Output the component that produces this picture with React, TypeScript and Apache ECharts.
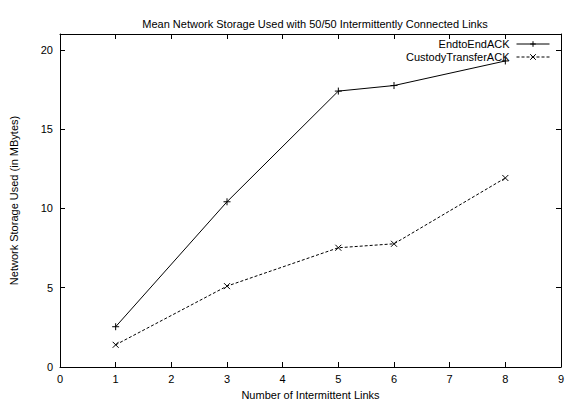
import React, { useEffect, useRef } from "react";
import * as echarts from "echarts";

const title = "Mean Network Storage Used with 50/50 Intermittently Connected Links";
const xName = "Number of Intermittent Links";
const yName = "Network Storage Used (in MBytes)";
const linksCount = [1, 3, 5, 6, 8];
const endToEnd = [2.54, 10.42, 17.4, 17.75, 19.3];
const custody = [1.4, 5.1, 7.52, 7.77, 11.92];
const seriesNames = ["EndtoEndACK", "CustodyTransferACK"];

const FONT = "Liberation Sans, Arial, Helvetica, sans-serif";

export default function App() {
  const ref = useRef<HTMLDivElement>(null);
  useEffect(() => {
    document.body.style.margin = "0";
    if (!ref.current) return;
    const chart = echarts.init(ref.current, undefined, { renderer: "svg" });
    const axisCommon = {
      axisLine: { show: true, onZero: false, lineStyle: { color: "#000", width: 1 } },
      axisTick: { show: true, inside: true, length: 5, lineStyle: { color: "#000" } },
      splitLine: { show: false },
    };
    chart.setOption({
      animation: false,
      backgroundColor: "#fff",
      textStyle: { fontFamily: FONT },
      title: {
        text: title,
        left: 310,
        textAlign: "center",
        top: 13,
        textStyle: { fontSize: 11, fontWeight: "normal", color: "#000", fontFamily: FONT },
      },
      grid: { left: 58, right: 7, top: 34, bottom: 34, containLabel: false },
      legend: {
        orient: "vertical",
        right: 18,
        top: 38,
        padding: 0,
        align: "right",
        itemWidth: 33,
        itemHeight: 7,
        itemGap: 1,
        lineStyle: { width: 1 },
        itemStyle: { borderWidth: 1 },
        textStyle: { fontSize: 11, lineHeight: 12, color: "#000", fontFamily: FONT, padding: [0, 2, 0, 0] },
        data: seriesNames,
      },
      xAxis: [
        {
          type: "value",
          min: 0,
          max: 9,
          interval: 1,
          position: "bottom",
          name: xName,
          nameLocation: "middle",
          nameGap: 22,
          nameTextStyle: { fontSize: 11, color: "#000", fontFamily: FONT },
          axisLabel: { fontSize: 11, color: "#000", margin: 6, fontFamily: FONT },
          ...axisCommon,
        },
        {
          type: "value",
          min: 0,
          max: 9,
          interval: 1,
          position: "top",
          axisLabel: { show: false },
          ...axisCommon,
        },
      ],
      yAxis: [
        {
          type: "value",
          min: 0,
          max: 21,
          interval: 5,
          position: "left",
          name: yName,
          nameLocation: "middle",
          nameGap: 41,
          nameTextStyle: { fontSize: 11, color: "#000", fontFamily: FONT },
          axisLabel: { fontSize: 11, color: "#000", margin: 7, fontFamily: FONT, showMaxLabel: false },
          ...axisCommon,
        },
        {
          type: "value",
          min: 0,
          max: 21,
          interval: 5,
          position: "right",
          axisLabel: { show: false },
          ...axisCommon,
        },
      ],
      series: [
        {
          name: seriesNames[0],
          type: "line",
          data: linksCount.map((x, i) => [x, endToEnd[i]]),
          symbol: "path://M0,-1L0,1M-1,0L1,0",
          symbolSize: 7,
          showSymbol: true,
          lineStyle: { color: "#000", width: 1, type: "solid" },
          itemStyle: { color: "none", borderColor: "#000", borderWidth: 1 },
        },
        {
          name: seriesNames[1],
          type: "line",
          data: linksCount.map((x, i) => [x, custody[i]]),
          symbol: "path://M-1,-1L1,1M-1,1L1,-1",
          symbolSize: 6,
          showSymbol: true,
          lineStyle: { color: "#000", width: 1, type: [3, 2] },
          itemStyle: { color: "none", borderColor: "#000", borderWidth: 1 },
        },
      ],
    });
    return () => chart.dispose();
  }, []);
  return <div ref={ref} style={{ width: 568, height: 405 }} />;
}
